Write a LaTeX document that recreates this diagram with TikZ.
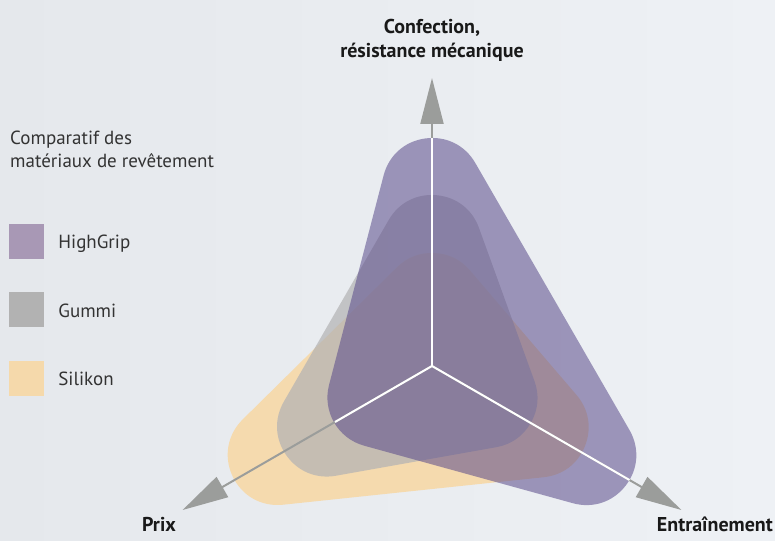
\documentclass[tikz,border=0pt]{standalone}
\usepackage{fontspec}
\setmainfont{PT Sans}
\usetikzlibrary{positioning,arrows.meta}
\definecolor{hgfill}{RGB}{89,74,138}
\definecolor{gufill}{RGB}{178,178,180}
\definecolor{sifill}{RGB}{245,218,174}
\definecolor{hgkey}{RGB}{168,152,181}
\definecolor{gukey}{RGB}{178,178,178}
\definecolor{sikey}{RGB}{245,217,171}
\definecolor{axisgrey}{RGB}{155,157,155}
\definecolor{bgtone}{RGB}{238,241,245}
\definecolor{bgshade}{RGB}{229,232,236}
\tikzset{axis/.style={draw=axisgrey, line width=2pt, -{Triangle[length=46pt, width=23pt]}}}
\tikzset{spoke/.style={draw=white, line width=2pt}}
\tikzset{blob/.style={fill=#1, draw=#1, line width=100pt, line join=round}}
\tikzset{swatch/.style={fill=#1, minimum size=35pt, inner sep=0pt}}
\tikzset{keytext/.style={text height=15pt, text depth=0pt, inner sep=0pt, text=black!80, font=\fontsize{19}{23}\selectfont}}
\tikzset{axislabel/.style={inner sep=0pt, align=center, text=black!90, font=\bfseries\fontsize{20}{24}\selectfont}}

\begin{document}
\begin{tikzpicture}[x=1pt, y=1pt]
\shade[left color=bgshade, right color=bgtone] (-432,-174) rectangle (343,366);
\useasboundingbox (-432,-174) rectangle (343,366);

\coordinate (o) at (0,0);
\coordinate (conftip) at (90:288pt);
\coordinate (traintip) at (-30:288pt);
\coordinate (prixtip) at (210:288pt);
\coordinate (confend) at (90:228pt);
\coordinate (trainend) at (-30:228pt);
\coordinate (prixend) at (210:112pt);

\path[blob=sifill] (90:63pt) -- (-30:123pt) -- (210:178pt) -- cycle;
\begin{scope}[transparency group, opacity=0.7]
\path[blob=gufill] (90:121pt) -- (-30:64pt) -- (210:121pt) -- cycle;
\end{scope}
\begin{scope}[transparency group, opacity=0.55]
\path[blob=hgfill] (90:178pt) -- (-30:178pt) -- (210:63pt) -- cycle;
\end{scope}

\draw[axis] (o) -- (conftip);
\draw[axis] (o) -- (traintip);
\draw[axis] (o) -- (prixtip);
\draw[spoke] (o) -- (confend);
\draw[spoke] (o) -- (trainend);
\draw[spoke] (o) -- (prixend);

\node[axislabel, anchor=south] (conf) at (0,304) {Confection,\\résistance mécanique};
\node[axislabel, anchor=base] (prix) at (-273,-165) {Prix};
\node[axislabel, anchor=base east] (train) at (341,-165) {Entraînement};

\node[anchor=north west, align=left, inner sep=0pt, text=black!80, font=\fontsize{19}{23}\selectfont] (title) at (-422,235) {Comparatif des\\matériaux de revêtement};
\node[swatch=hgkey] (hg) at (-405.5,124.5) {};
\node[swatch=gukey, below=33pt of hg] (gu) {};
\node[swatch=sikey, below=33pt of gu] (si) {};
\node[keytext, right=14pt of hg] (hglabel) {HighGrip};
\node[keytext, right=14pt of gu] (gulabel) {Gummi};
\node[keytext, right=14pt of si] (silabel) {Silikon};
\end{tikzpicture}
\end{document}
